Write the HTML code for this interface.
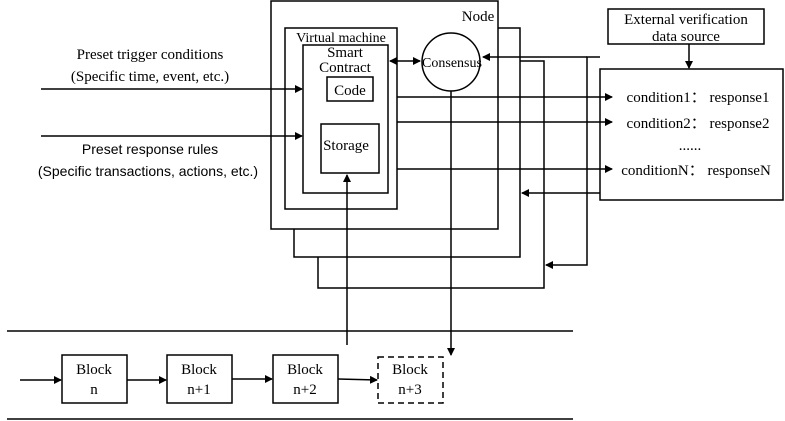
<!DOCTYPE html>
<html><head><meta charset="utf-8"><style>body{margin:0;background:#fff}svg{display:block}</style></head><body>
<svg width="785" height="421" xmlns="http://www.w3.org/2000/svg" font-family="Liberation Serif, serif" font-size="15" fill="none" stroke="#000" stroke-width="1.5">
<defs><marker id="a" markerWidth="8" markerHeight="8" refX="7" refY="4" orient="auto" markerUnits="userSpaceOnUse"><path d="M0,0L8,4L0,8Z" fill="#000" stroke="none"/></marker>
<marker id="s" markerWidth="8" markerHeight="8" refX="1" refY="4" orient="auto" markerUnits="userSpaceOnUse"><path d="M8,0L0,4L8,8Z" fill="#000" stroke="none"/></marker></defs>
<rect x="318" y="61" width="226" height="227"/>
<rect x="294" y="28" width="226" height="229" fill="#fff"/>
<rect x="271" y="1" width="227" height="228" fill="#fff"/>
<rect x="285" y="28" width="112" height="181"/>
<rect x="303" y="45" width="85" height="148"/>
<rect x="327" y="77" width="46" height="24"/>
<rect x="321" y="124" width="58" height="49"/>
<circle cx="451" cy="62" r="29"/>
<line x1="390" y1="61" x2="420" y2="61" marker-start="url(#s)" marker-end="url(#a)"/>
<line x1="397" y1="97" x2="612" y2="97" marker-end="url(#a)"/>
<line x1="397" y1="122" x2="612" y2="122" marker-end="url(#a)"/>
<line x1="397" y1="169" x2="612" y2="169" marker-end="url(#a)"/>
<polyline points="600,57 587,57 587,265 546,265" marker-end="url(#a)"/>
<line x1="587" y1="57" x2="483" y2="57" marker-end="url(#a)"/>
<line x1="600" y1="193" x2="522" y2="193" marker-end="url(#a)"/>
<line x1="41" y1="89" x2="302" y2="89" marker-end="url(#a)"/>
<line x1="41" y1="136" x2="302" y2="136" marker-end="url(#a)"/>
<line x1="347" y1="345" x2="347" y2="175" marker-end="url(#a)"/>
<line x1="451" y1="91" x2="451" y2="355" marker-end="url(#a)"/>
<rect x="608" y="9" width="156" height="35"/>
<line x1="689" y1="44" x2="689" y2="68" marker-end="url(#a)"/>
<rect x="600" y="69" width="183" height="131"/>
<line x1="7" y1="331" x2="573" y2="331"/>
<line x1="7" y1="419" x2="573" y2="419"/>
<rect x="62" y="355" width="65" height="48"/>
<rect x="167" y="355" width="65" height="48"/>
<rect x="273" y="355" width="65" height="48"/>
<rect x="378" y="357" width="65" height="46" stroke-dasharray="6,4"/>
<line x1="20" y1="380" x2="61" y2="380" marker-end="url(#a)"/>
<line x1="127" y1="380" x2="166" y2="380" marker-end="url(#a)"/>
<line x1="232" y1="379" x2="272" y2="379" marker-end="url(#a)"/>
<line x1="338" y1="379" x2="377" y2="380" marker-end="url(#a)"/>
<g fill="#000" stroke="none" text-anchor="middle">
<text x="478" y="21" font-size="15">Node</text>
<text x="341" y="42" font-size="14">Virtual machine</text>
<text x="345" y="57">Smart</text>
<text x="345" y="72">Contract</text>
<text x="350" y="95">Code</text>
<text x="346" y="150">Storage</text>
<text x="452" y="67" font-size="14">Consensus</text>
<text x="686" y="24">External verification</text>
<text x="686" y="41">data source</text>
<text x="150" y="59">Preset trigger conditions</text>
<text x="150" y="81">(Specific time, event, etc.)</text>
<g font-family="Liberation Sans, sans-serif" font-size="14"><text x="150" y="154">Preset response rules</text>
<text x="148" y="176">(Specific transactions, actions, etc.)</text></g>
<text x="698" y="102">condition1： response1</text>
<text x="698" y="128">condition2： response2</text>
<text x="690" y="150">......</text>
<text x="696" y="175">conditionN： responseN</text>
<text x="94" y="374">Block</text><text x="94" y="394">n</text>
<text x="199" y="374">Block</text><text x="199" y="394">n+1</text>
<text x="305" y="374">Block</text><text x="305" y="394">n+2</text>
<text x="410" y="374">Block</text><text x="410" y="394">n+3</text>
</g>
</svg>
</body></html>
